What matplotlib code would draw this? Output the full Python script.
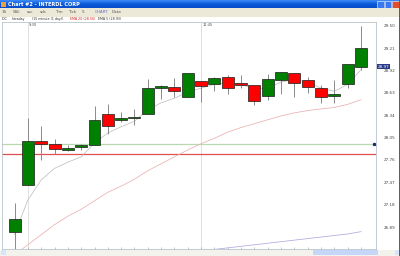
import matplotlib
matplotlib.use('Agg')
import matplotlib.pyplot as plt
from matplotlib.patches import Rectangle
import numpy as np

# datos de las velas (15 minutos)
opens = [26.83, 27.44, 28.00, 27.97, 27.89, 27.93, 27.95, 28.35, 28.28, 28.30, 28.36, 28.69, 28.71, 28.58,
         28.78, 28.75, 28.83, 28.76, 28.73, 28.59, 28.80, 28.89, 28.80, 28.69, 28.59, 28.75, 28.97]
highs = [27.20, 28.30, 28.20, 28.03, 27.95, 27.97, 28.46, 28.49, 28.38, 28.42, 28.81, 28.73, 28.82, 28.89,
         28.78, 28.84, 28.86, 28.86, 28.73, 28.87, 28.90, 28.89, 28.83, 28.73, 28.80, 29.00, 29.50]
lows = [26.55, 27.44, 27.76, 27.83, 27.88, 27.89, 27.95, 28.10, 28.25, 28.21, 28.36, 28.55, 28.57, 28.58,
        28.51, 28.65, 28.61, 28.69, 28.47, 28.53, 28.62, 28.57, 28.63, 28.50, 28.50, 28.69, 28.93]
closes = [26.99, 28.00, 27.97, 27.90, 27.92, 27.95, 28.28, 28.20, 28.30, 28.32, 28.69, 28.72, 28.65, 28.89,
          28.72, 28.82, 28.69, 28.73, 28.52, 28.81, 28.90, 28.76, 28.70, 28.58, 28.62, 29.00, 29.21]

# medias moviles
ema5 = [26.79, 27.24, 27.50, 27.65, 27.73, 27.80, 27.98, 28.11, 28.19, 28.26, 28.41, 28.50, 28.56, 28.64,
        28.69, 28.74, 28.76, 28.74, 28.68, 28.69, 28.77, 28.80, 28.77, 28.69, 28.65, 28.74, 28.93]
ema20 = [26.53, 26.66, 26.79, 26.92, 27.03, 27.12, 27.23, 27.34, 27.42, 27.51, 27.62, 27.71, 27.80, 27.89,
         27.97, 28.04, 28.12, 28.18, 28.23, 28.28, 28.33, 28.37, 28.40, 28.42, 28.44, 28.48, 28.54]
ema50_idx = [14, 15, 16, 17, 18, 19, 20, 21, 22, 23, 24, 25, 26]
ema50 = [26.58, 26.60, 26.62, 26.64, 26.66, 26.68, 26.70, 26.72, 26.74, 26.76, 26.78, 26.80, 26.83]

levels = [27.96, 27.84]
level_colors = ['#b8d8b0', '#e05050']
price_ticks = [29.50, 29.21, 28.92, 28.63, 28.34, 28.05, 27.76, 27.47, 27.18, 26.89]
marker_idx = [1, 14]
marker_labels = ['9:30', '12:45']
last_tag = 28.97

tabs = ['1S', '5Sli', 'ssc', 'sdc', 'Tim', 'Tick', '5', 'CHART', 'Data']
tab_x = [2, 13, 27, 40, 55, 68, 82, 95, 112]

W, H = 400, 256
fig = plt.figure(figsize=(4, 2.56), dpi=100)
fig.patch.set_facecolor('white')


def rect(x, y, w, h, color, ec='none', lw=0):
    fig.patches.append(Rectangle((x / W, 1 - (y + h) / H), w / W, h / H, transform=fig.transFigure,
                                 facecolor=color, edgecolor=ec, linewidth=lw))


def txt(x, y, s, **kw):
    fig.text(x / W, 1 - y / H, s, va='center', ha='left', **kw)


# barra de titulo estilo XP
tb = fig.add_axes([0, 1 - 8 / H, 1, 8 / H])
grad = np.linspace(0, 1, 20).reshape(-1, 1)
tb.imshow(grad, aspect='auto', cmap=matplotlib.colors.LinearSegmentedColormap.from_list(
    'xp', ['#3d8af7', '#0a5ad8', '#0b4fc8']), extent=[0, 1, 0, 1])
tb.set_axis_off()
rect(1, 1.5, 5, 5, '#e8a040')
txt(8, 4, 'Chart #2 - INTERDL CORP', color='white', fontsize=3.6, fontweight='bold')
rect(377, 1, 6.5, 6.5, '#3b77ee', ec='white', lw=0.4)
rect(384.5, 1, 6.5, 6.5, '#3b77ee', ec='white', lw=0.4)
rect(392, 1, 6.5, 6.5, '#e0502a', ec='white', lw=0.4)

# fila de pestañas
rect(0, 8, W, 8.5, '#ece9d8')
for i in range(len(tabs)):
    c = '#6a6ad0' if tabs[i] == 'CHART' else '#555555'
    txt(tab_x[i], 12.2, tabs[i], color=c, fontsize=3)
    rect(tab_x[i] + 9 if tabs[i] != 'CHART' else tab_x[i] + 14, 9, 0.4, 6, '#b0ad9c')

# fila de info
rect(0, 16.5, W, 4.5, 'white')
info = [(2, 'IDC', '#333333'), (12, 'Intraday', '#333333'), (32, '(15 minute (1 day))', '#333333'),
        (70, 'EMA 20 (28.56)', '#d02020'), (98, 'EMA 5 (28.93)', '#333333')]
for xi, s, c in info:
    txt(xi, 18.8, s, color=c, fontsize=2.3)
    rect(xi - 1.5, 17, 0.4, 3.6, '#c0c0c0')

# grafico principal
ax = fig.add_axes([2 / W, 1 - 249 / H, 374 / W, 227.5 / H])
ax.set_xlim(-0.94, 27.12)
ax.set_ylim(26.605, 29.554)
x = np.arange(len(opens))

for i in range(len(marker_idx)):
    ax.axvline(marker_idx[i], color='#dcdcdc', lw=0.6, zorder=1)
    ax.text(marker_idx[i] + 0.1, 29.51, marker_labels[i], fontsize=2.6, color='#555555', va='center')

for i in range(len(levels)):
    ax.axhline(levels[i], color=level_colors[i], lw=0.9, zorder=1)

ax.plot(x, ema20, color='#eab0b0', lw=0.55, zorder=2)
ax.plot(ema50_idx, ema50, color='#b0a8e0', lw=0.55, zorder=2)
ax.plot(x, ema5, color='#c0c0c0', lw=0.55, zorder=2)

ax.vlines(x, lows, highs, color='#8a8a8a', lw=0.7, zorder=3)
colors = ['#008000' if closes[i] >= opens[i] else '#ff0000' for i in range(len(opens))]
bottoms = [min(opens[i], closes[i]) for i in range(len(opens))]
heights = [max(abs(closes[i] - opens[i]), 0.02) for i in range(len(opens))]
ax.bar(x, heights, bottom=bottoms, width=0.9, color=colors, edgecolor='#1a1a1a', linewidth=0.5, zorder=4)

ax.set_yticks(price_ticks)
ax.set_yticklabels(['%.2f' % p for p in price_ticks])
ax.tick_params(axis='y', left=False, labelleft=False, right=False, labelright=True, pad=2,
               labelsize=3, labelcolor='#444444')
ax.set_xticks(x)
ax.set_xticklabels([])
ax.tick_params(axis='x', direction='in', length=1.5, width=0.4, color='#999999')
for s in ax.spines.values():
    s.set_color('#b8c4cc')
    s.set_linewidth(0.6)

# etiqueta del ultimo precio
ax.text(1.005, (last_tag - 26.605) / (29.554 - 26.605), '%.2f' % last_tag, transform=ax.transAxes,
        fontsize=3, color='white', va='center', ha='left',
        bbox=dict(boxstyle='square,pad=0.15', fc='#2a3a8a', ec='none'))
ax.plot([27.0], [levels[0]], marker='s', ms=1.3, color='#1a2a7a', clip_on=False, zorder=5)

# barra de desplazamiento
rect(0, 249.5, W, 6.5, '#f3f2ec')
rect(313, 250.2, 65, 5, '#c6d6f8')
rect(0.5, 250.2, 5, 5, '#d8e4fa')
rect(394.5, 250.2, 5, 5, '#d8e4fa')
rect(398.5, 0, 1.5, H, '#2a62d8')

plt.savefig('out.png', dpi=100)
